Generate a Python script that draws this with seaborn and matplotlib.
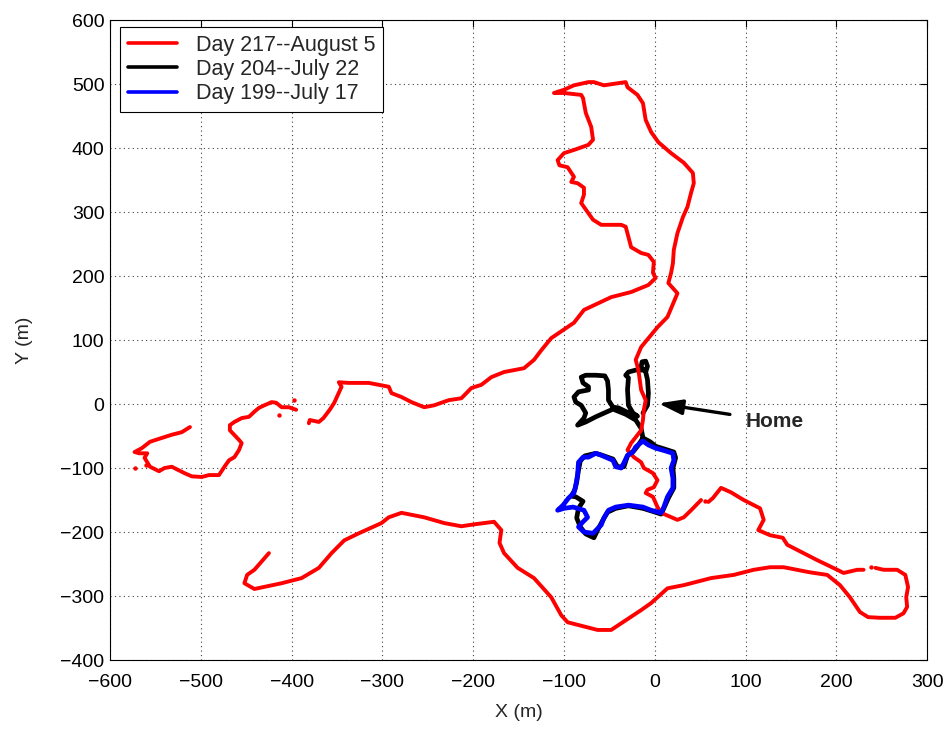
import pandas as pd
import matplotlib
matplotlib.use("Agg")
import matplotlib.pyplot as plt
import seaborn as sns
from matplotlib.lines import Line2D

# ---------------- Day 217 (August 5) track, split where the fix record drops out
d217_a_x = [-512, -521, -532, -543, -556, -565, -573, -568, -559, -562, -556, -546, -540, -532,
            -518, -510, -499, -491, -480, -474, -469, -463, -458, -455, -458, -468, -468, -463,
            -455, -447, -441, -436, -430, -422, -417, -411, -403, -395]
d217_a_y = [-36, -44, -48, -53, -59, -69, -75, -77, -77, -84, -98, -105, -100, -98,
            -108, -113, -114, -111, -111, -98, -88, -83, -72, -61, -56, -41, -33, -28,
            -22, -20, -12, -6, -2, 3, 2, -5, -5, -9]

d217_b_x = [-381, -380, -370, -365, -358, -353, -345, -348, -337, -315, -293, -290, -279, -268,
            -254, -243, -227, -213, -202, -191, -180, -166, -144, -133, -125, -114, -89, -78,
            -48, -26, -7, 1, -2, -1, -7, -15, -26, -32, -37, -59, -68, -81, -78, -78, -85, -92,
            -89, -96, -105, -107, -100, -89, -73, -68, -70, -76, -79, -81, -100, -111, -100,
            -89, -73, -67, -56, -37, -32, -30, -19, -13, -10, -4, 4, 18, 32, 42, 43, 40, 36,
            31, 25, 21, 20, 18, 15, 25, 14, 3, -15, -21, -18, -15, -10, -12, -13, -15, -26,
            -30, -23, -15, -12, -2, 3, -1, -8, -10, -2, 3, 7, 25, 32, 40, 51]
d217_b_y = [-30, -25, -28, -22, -9, 2, 27, 34, 33, 33, 27, 17, 11, 3,
            -5, -2, 6, 9, 25, 30, 42, 50, 56, 69, 84, 103, 127, 147,
            167, 175, 186, 197, 205, 222, 233, 236, 245, 277, 280, 280, 288, 314, 327, 338, 345, 347,
            355, 370, 373, 381, 392, 397, 405, 413, 433, 455, 478, 483, 486, 486, 491,
            498, 503, 503, 498, 502, 503, 495, 483, 470, 444, 425, 409, 392, 377, 361, 345, 330, 308,
            292, 267, 241, 220, 205, 189, 173, 136, 120, 89, 69, 53, 22, 6, -9, -25, -41, -61,
            -72, -83, -91, -100, -108, -119, -130, -134, -139, -145, -161, -170, -181, -177, -166, -150]

d217_c_x = [59, 64, 73, 84, 98, 116, 120, 114, 127, 141, 146, 157, 179, 201, 208, 223, 230]
d217_c_y = [-153, -147, -131, -138, -150, -163, -181, -197, -205, -209, -220, -228, -244, -259,
            -264, -259, -259]

d217_d_x = [243, 252, 267, 276, 279, 277, 278, 274, 265, 248, 235, 226, 215, 204, 190, 171, 142,
            127, 109, 87, 62, 32, 14, -4, -15, -48, -63, -96, -103, -114, -133, -151, -166, -171,
            -169, -177, -199, -213, -232, -254, -279, -293, -301, -326, -342, -356, -370, -389,
            -411, -441, -452, -449, -441, -425]
d217_d_y = [-256, -259, -259, -267, -286, -302, -317, -327, -334, -334, -333, -325, -302, -283,
            -267, -263, -255, -255, -259, -267, -272, -283, -288, -311, -322, -353, -353, -341,
            -330, -302, -272, -256, -233, -217, -197, -184, -188, -191, -186, -177, -170, -177,
            -186, -202, -213, -233, -256, -272, -280, -289, -280, -267, -259, -233]

# isolated fixes of the same day
d217_stray_x = [-397, -573, -560, -414, 55, 238]
d217_stray_y = [6, -100, -95, -17, -152, -255]

# ---------------- Day 204 (July 22) track
d204_x = [-13, -8, -7, -8, -10, -8, -10, -14, -15, -12, -21, -29, -32, -29, -30, -29, -24, -19,
          -30, -40, -46, -51, -51, -52, -55, -65, -76, -81, -79, -73, -73, -84, -89, -87, -81,
          -76, -78, -85, -76, -65, -54, -46, -32, -21, -15, -13,
          -5, 1, 10, 21, 23, 20, 21, 21, 15, 10, 7, -4, -13, -29, -43, -52, -57, -63, -67,
          -76, -82, -86, -84, -79, -87, -92, -88, -86, -84, -82, -77, -65, -58, -46, -41, -34,
          -30, -23, -19, -13]
d204_y = [-14, -2, 17, 38, 50, 59, 67, 66, 58, 53, 53, 50, 45, 41, 22, -2, -14, -19,
          -13, -6, -5, 6, 22, 36, 44, 45, 45, 42, 33, 27, 22, 19, 11, 3, -2,
          -14, -22, -33, -28, -20, -13, -8, -16, -25, -38, -53,
          -59, -66, -70, -75, -84, -100, -116, -131, -147, -163, -172, -167, -163, -159, -163,
          -169, -181, -197, -209, -203, -192, -178, -163, -152, -145, -144, -134, -122, -103,
          -89, -81, -77, -80, -86, -98, -98, -81, -73, -66, -53]

# ---------------- Day 199 (July 17) track
d199_x = [-13, -7, 1, 11, 20, 21, 18, 20, 20, 14, 10, 7, -4, -13, -29, -43, -51, -56, -59, -68,
          -78, -84, -79, -74, -78, -90, -100, -107, -101, -95, -89, -87, -85, -84, -79, -73,
          -65, -59, -46, -43, -37, -34, -30, -24, -21, -13]
d199_y = [-58, -64, -69, -73, -77, -88, -100, -116, -131, -145, -161, -170, -166, -161, -158,
          -161, -166, -178, -189, -202, -200, -192, -184, -177, -166, -161, -163, -166, -158,
          -147, -139, -127, -111, -91, -83, -83, -77, -80, -88, -98, -100, -92, -80, -75, -67, -58]

labels = ["Day 217--August 5", "Day 204--July 22", "Day 199--July 17"]
colors = ["#ff0000", "#000000", "#0000ff"]

home_xy = (4, 1)
home_text_xy = (100, -27)

x_ticks = list(range(-600, 301, 100))
y_ticks = list(range(-400, 601, 100))

# ---------------- tables
red_parts = [(d217_a_x, d217_a_y), (d217_b_x, d217_b_y), (d217_c_x, d217_c_y), (d217_d_x, d217_d_y)]
red_df = pd.concat(
    [pd.DataFrame({"x": xs, "y": ys, "seg": i}) for i, (xs, ys) in enumerate(red_parts)],
    ignore_index=True)
stray_df = pd.DataFrame({"x": d217_stray_x, "y": d217_stray_y})
black_df = pd.DataFrame({"x": d204_x, "y": d204_y})
blue_df = pd.DataFrame({"x": d199_x, "y": d199_y})

sns.set_theme(style="white")
plt.rcParams["font.family"] = ["Liberation Sans", "DejaVu Sans"]

fig, ax = plt.subplots(figsize=(9.47, 7.31), dpi=100)
fig.subplots_adjust(left=0.1162, right=0.979, bottom=0.0971, top=0.9726)

sns.lineplot(data=black_df, x="x", y="y", sort=False, estimator=None, color=colors[1],
             lw=3.4, ax=ax, zorder=3, legend=False)
sns.lineplot(data=red_df, x="x", y="y", units="seg", sort=False, estimator=None,
             color=colors[0], lw=2.8, ax=ax, zorder=4, legend=False)
sns.scatterplot(data=stray_df, x="x", y="y", color=colors[0], s=10, linewidth=0,
                ax=ax, zorder=4, legend=False)
sns.lineplot(data=blue_df, x="x", y="y", sort=False, estimator=None, color=colors[2],
             lw=3.4, ax=ax, zorder=5, legend=False)

ax.set_xlim(-600, 300)
ax.set_ylim(-400, 600)
ax.set_xticks(x_ticks)
ax.set_yticks(y_ticks)
ax.set_xlabel("X (m)", fontsize=14)
ax.set_ylabel("Y (m)", fontsize=14)
ax.xaxis.set_label_coords(0.5, -0.069)
ax.yaxis.set_label_coords(-0.094, 0.5)
ax.tick_params(direction="in", length=5, width=0.8, labelsize=14, top=True, right=True,
               colors="black")
ax.tick_params(axis="x", pad=10)
ax.tick_params(axis="y", pad=4)
ax.grid(True, linestyle=(0, (1, 3)), color="0.25", lw=0.8)
for side in ax.spines.values():
    side.set_visible(True)
    side.set_color("black")
    side.set_linewidth(0.8)

ax.annotate("Home", xy=home_xy, xytext=home_text_xy, fontsize=15, fontweight="bold",
            ha="left", va="center", zorder=6,
            arrowprops=dict(arrowstyle="-|>,head_length=0.95,head_width=0.3", lw=2.4,
                            color="black", shrinkA=9, shrinkB=0))

handles = [Line2D([], [], color=c, lw=2.6) for c in colors]
leg = ax.legend(handles, labels, loc="upper left", bbox_to_anchor=(0.0122, 0.989),
                borderaxespad=0, fontsize=15.5, frameon=True, fancybox=False, framealpha=1,
                edgecolor="black", handlelength=2.3, labelspacing=0.15, borderpad=0.35,
                handletextpad=0.9)
leg.get_frame().set_linewidth(0.8)
leg.set_zorder(10)

fig.savefig("out.png", dpi=100)
